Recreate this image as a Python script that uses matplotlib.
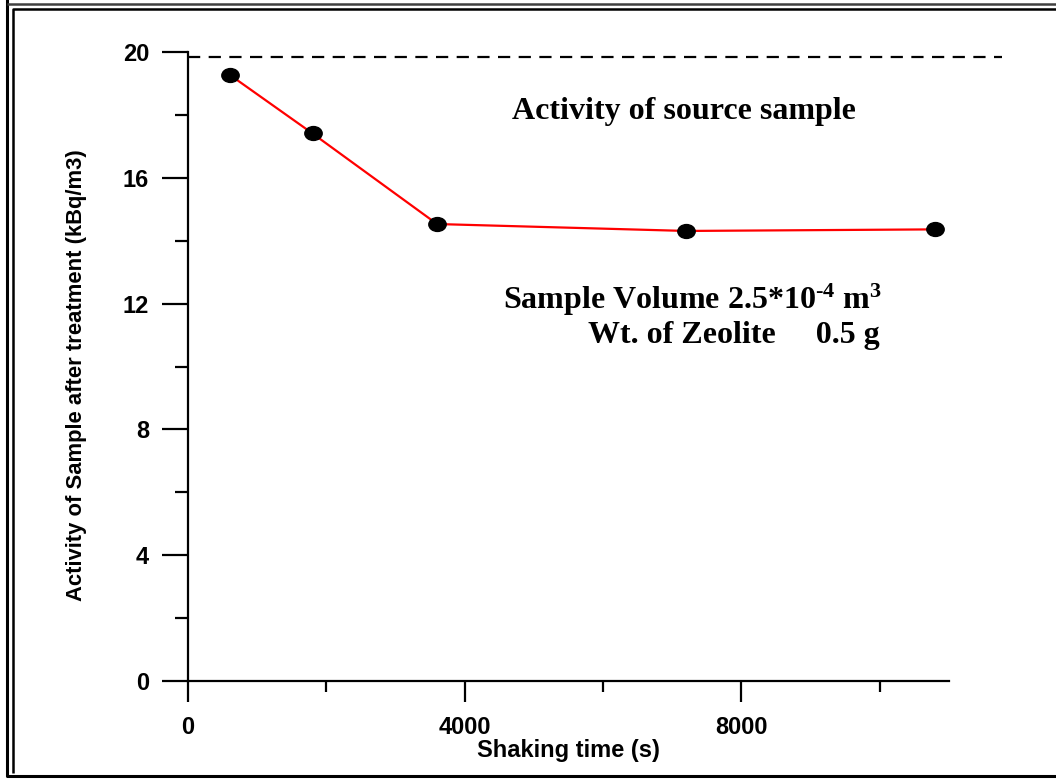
import matplotlib
matplotlib.use("Agg")
import matplotlib.pyplot as plt
import numpy as np
from matplotlib.path import Path
from matplotlib.lines import Line2D
from matplotlib.ticker import MultipleLocator

# ---- data ----
shaking_time = [600, 1800, 3600, 7200, 10800]
activity = [19.28, 17.41, 14.53, 14.31, 14.36]
source_activity = 19.85
x_ticks = [0, 4000, 8000]
y_ticks = [0, 4, 8, 12, 16, 20]

plt.rcParams['mathtext.fontset'] = 'custom'
plt.rcParams['mathtext.rm'] = 'Liberation Serif:bold'
plt.rcParams['mathtext.it'] = 'Liberation Serif:bold'
plt.rcParams['mathtext.bf'] = 'Liberation Serif:bold'

W, H = 1056, 780
fig = plt.figure(figsize=(W / 100, H / 100), dpi=100)

ax = fig.add_axes([188 / W, 1 - 681 / H, (949 - 188) / W, (681 - 52) / H])
ax.set_xlim(0, 11000)
ax.set_ylim(0, 20)

# elliptical marker
circ = Path.unit_circle()
ell = Path(circ.vertices * np.array([1.25, 1.0]), circ.codes)

ax.plot(shaking_time, activity, color='#ff0000', lw=1.6, zorder=2)
ax.plot(shaking_time, activity, linestyle='none', marker=ell, markersize=12.5,
        color='black', zorder=3)

# source activity dashed line (extends beyond axis)
ax.plot([0, 11760], [source_activity, source_activity], color='black', lw=1.6,
        linestyle=(0, (5.5, 3.8)), clip_on=False)

for s in ['top', 'right']:
    ax.spines[s].set_visible(False)
for s in ['left', 'bottom']:
    ax.spines[s].set_linewidth(1.6)

ax.set_xticks(x_ticks)
ax.set_yticks(y_ticks)
ax.xaxis.set_minor_locator(MultipleLocator(2000))
ax.yaxis.set_minor_locator(MultipleLocator(2))
ax.tick_params(axis='x', which='major', direction='out', length=15, width=1.6, pad=10)
ax.tick_params(axis='x', which='minor', direction='out', length=8, width=1.6)
ax.tick_params(axis='y', which='major', direction='out', length=19, width=1.6, pad=9)
ax.tick_params(axis='y', which='minor', direction='out', length=9.5, width=1.6)

for lab in ax.get_xticklabels() + ax.get_yticklabels():
    lab.set_fontfamily('Liberation Sans')
    lab.set_fontweight('bold')
    lab.set_fontsize(17)

ax.set_xlabel('Shaking time (s)', fontfamily='Liberation Sans', fontweight='bold',
              fontsize=17, labelpad=0)
ax.set_ylabel('Activity of Sample after treatment (kBq/m3)', fontfamily='Liberation Sans',
              fontweight='bold', fontsize=15.8)
ax.yaxis.set_label_coords(-0.133, 0.486)

serif = dict(fontfamily='Liberation Serif', fontweight='bold', fontsize=23, color='black')
fig.text(684 / W, 1 - 112 / H, 'Activity of source sample', ha='center', va='center', **serif)
fig.text(882 / W, 1 - 300 / H, 'Sample Volume 2.5*10$^{\u20104}$ m$^{3}$', ha='right', va='center', **serif)
fig.text(880 / W, 1 - 336 / H, 'Wt. of Zeolite     0.5 g', ha='right', va='center', **serif)

# double frame around the figure
def fline(xs, ys, lw, color='black'):
    fig.add_artist(Line2D([x / W for x in xs], [1 - y / H for y in ys],
                          transform=fig.transFigure, lw=lw, color=color,
                          solid_capstyle='butt'))

fline([7.3, 7.3, 1060], [-5, 776, 776], 2.2)
fline([7.3, 1060], [3.5, 3.5], 1.8, '#404040')
fline([12.7, 12.7, 1060], [772.5, 9, 9], 1.8)

fig.savefig('out.png', dpi=100)
